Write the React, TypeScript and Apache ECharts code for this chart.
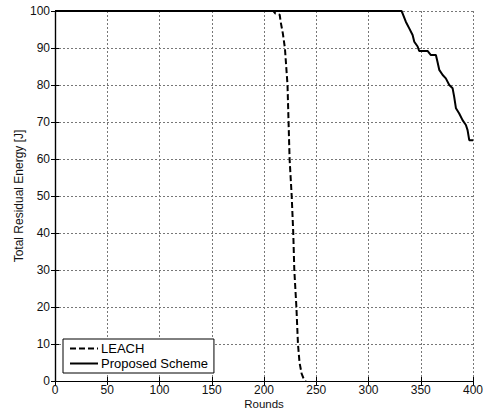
import React, { useEffect, useRef } from "react";
import * as echarts from "echarts";

const xTicks = { min: 0, max: 400, interval: 50 };
const yTicks = { min: 0, max: 100, interval: 10 };

const leachRounds = [0, 209, 211, 215, 216, 218, 220, 222.5, 223.5, 224.5, 226.5, 228, 229, 231, 232.5, 234, 236, 238, 240];
const leachEnergy = [100, 100, 99.3, 99, 97, 94, 90, 80, 70, 60, 50, 40, 30, 20, 10, 5, 2, 0.6, 0];

const propRounds = [0, 331.6, 332.5, 335.7, 339, 342.2, 343.8, 347, 348.5, 356.5, 359.7, 364.5, 366, 367.7, 371, 374, 377.3, 380.5, 382, 383.7, 386.8, 390, 393.2, 394.8, 396.4, 400];
const propEnergy = [100, 100, 99.4, 97.1, 95.3, 93.5, 91.7, 90.4, 89.2, 89.2, 88.1, 88.1, 86.3, 84.1, 82.7, 81.8, 80, 79.1, 76.8, 73.7, 72.3, 70.5, 69.2, 67.8, 65.1, 65.1];

const seriesNames = ["LEACH", "Proposed Scheme"];
const xName = "Rounds";
const yName = "Total Residual Energy [J]";

const FONT = "Liberation Sans";

export default function App() {
  const ref = useRef<HTMLDivElement>(null);
  useEffect(() => {
    if (!ref.current) return;
    const chart = echarts.init(ref.current, undefined, { renderer: "svg" });
    const tick = { show: true, inside: true, length: 4, lineStyle: { color: "#000", width: 1 } };
    const axisLine = { show: true, lineStyle: { color: "#000", width: 1.2 } };
    const split = { show: true, lineStyle: { color: "#777", type: [2, 2] as any, width: 1 } };
    chart.setOption({
      animation: false,
      backgroundColor: "#fff",
      grid: { left: 55, top: 11, right: 13, bottom: 28, containLabel: false, outerBoundsMode: "none" },
      legend: {
        left: 63,
        top: 339,
        orient: "vertical",
        data: seriesNames,
        backgroundColor: "#fff",
        borderColor: "#000",
        borderWidth: 1,
        borderRadius: 0,
        padding: [3, 6, 3, 6],
        itemGap: 2,
        itemWidth: 28,
        itemHeight: 12,
        itemStyle: { opacity: 0 },
        textStyle: { fontFamily: FONT, fontSize: 13, color: "#000", padding: [0, 0, 0, -2] },
      },
      xAxis: [
        {
          type: "value",
          ...xTicks,
          name: xName,
          nameLocation: "middle",
          nameGap: 17,
          nameMoveOverlap: false,
          nameTextStyle: { fontFamily: FONT, fontSize: 11.5, lineHeight: 11, color: "#111" },
          axisLine,
          axisTick: tick,
          axisLabel: { fontFamily: FONT, fontSize: 12, lineHeight: 12, color: "#111", margin: 3 },
          splitLine: split,
        },
        {
          type: "value",
          ...xTicks,
          position: "top",
          axisLine,
          axisTick: tick,
          axisLabel: { show: false },
          splitLine: { show: false },
        },
      ],
      yAxis: [
        {
          type: "value",
          ...yTicks,
          name: yName,
          nameLocation: "middle",
          nameGap: 30,
          nameMoveOverlap: false,
          nameTextStyle: { fontFamily: FONT, fontSize: 12, color: "#111" },
          axisLine,
          axisTick: tick,
          axisLabel: { fontFamily: FONT, fontSize: 12, color: "#111", margin: 5 },
          splitLine: split,
        },
        {
          type: "value",
          ...yTicks,
          position: "right",
          axisLine,
          axisTick: tick,
          axisLabel: { show: false },
          splitLine: { show: false },
        },
      ],
      series: [
        {
          name: seriesNames[0],
          type: "line",
          symbol: "none",
          data: leachRounds.map((r, i) => [r, leachEnergy[i]]),
          lineStyle: { color: "#000", width: 2, type: [6, 3] },
          itemStyle: { color: "#000" },
        },
        {
          name: seriesNames[1],
          type: "line",
          symbol: "none",
          data: propRounds.map((r, i) => [r, propEnergy[i]]),
          lineStyle: { color: "#000", width: 2, type: "solid" },
          itemStyle: { color: "#000" },
        },
      ],
    });
    return () => chart.dispose();
  }, []);
  return <div ref={ref} style={{ position: "fixed", left: 0, top: 0, width: 486, height: 409 }} />;
}
